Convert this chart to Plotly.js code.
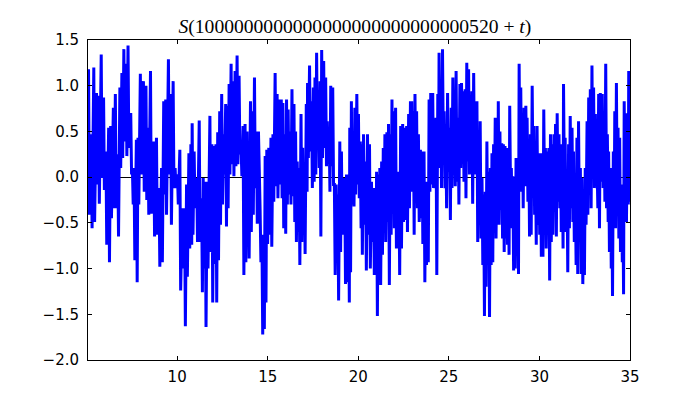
<!DOCTYPE html>
<html>
<head>
<meta charset="utf-8">
<script src="https://cdn.plot.ly/plotly-3.0.1.min.js"></script>
<style>html,body{margin:0;padding:0;background:#fff;}#chart{width:700px;height:400px;}</style>
</head>
<body>
<div id="chart"></div>
<script>
// t positions of each swing
var t = [
5.11,5.26,5.40,5.55,5.66,5.81,5.94,6.07,6.22,6.33,6.48,6.59,6.72,6.84,6.95,7.06,7.18,7.29,7.44,7.53,7.62,7.75,7.84,7.97,8.14,8.28,8.39,8.53,
8.71,8.86,9.00,9.14,9.26,9.37,9.52,9.64,9.78,9.89,10.02,10.15,10.28,10.41,10.52,10.65,10.76,10.83,10.94,11.08,11.22,11.35,11.44,11.55,11.66,11.81,11.92,12.03,
12.14,12.24,12.35,12.46,12.57,12.68,12.77,12.87,12.98,13.09,13.20,13.31,13.42,13.53,13.64,13.75,13.86,13.93,14.05,14.16,14.27,14.38,14.49,14.58,14.68,14.77,14.86,14.95,15.06,15.18,15.29,15.41,15.52,15.64,
15.75,15.84,15.95,16.04,16.13,16.24,16.34,16.45,16.54,16.63,16.73,16.84,16.93,17.02,17.13,17.20,17.31,17.42,17.52,17.61,17.70,17.80,17.89,17.98,18.09,18.20,18.29,18.39,18.48,18.59,18.68,18.78,18.87,18.98,19.07,19.16,19.25,
19.35,19.46,19.53,19.62,19.72,19.81,19.92,20.01,20.11,20.18,20.29,20.40,20.51,20.62,20.73,20.84,20.94,21.01,21.10,21.19,21.29,21.38,21.47,21.58,21.67,21.77,21.86,21.95,22.06,22.16,22.24,22.34,22.45,22.56,22.67,22.78,22.88,
22.95,23.04,23.13,23.22,23.32,23.43,23.52,23.63,23.72,23.82,23.91,24.00,24.11,24.21,24.29,24.39,24.46,24.55,24.65,24.74,24.83,24.93,25.04,25.13,25.22,25.31,25.40,25.51,25.61,25.70,25.79,25.90,25.99,26.09,26.18,26.27,26.37,26.45,
26.55,26.64,26.73,26.83,26.92,27.01,27.10,27.20,27.29,27.38,27.47,27.56,27.66,27.73,27.82,27.92,28.01,28.10,28.19,28.28,28.36,28.45,28.53,28.62,28.71,28.80,28.88,28.97,29.06,29.15,29.25,29.32,29.41,29.50,29.60,29.69,29.78,29.87,29.97,30.06,
30.15,30.24,30.33,30.43,30.52,30.61,30.70,30.80,30.89,30.98,31.08,31.16,31.26,31.33,31.42,31.52,31.61,31.70,31.80,31.88,31.98,32.07,32.16,32.26,32.35,32.44,32.53,32.63,32.72,32.81,32.90,32.99,33.09,33.18,33.27,33.36,
33.47,33.57,33.66,33.75,33.82,33.92,33.99,34.08,34.16,34.25,34.34,34.43,34.53,34.60,34.68,34.76,34.86,34.93,34.98
];
// upper turning values of S
var hi = [
1.18,0.47,1.2,0.92,0.89,1.34,0.87,0.28,0.54,0.56,0.76,0.91,0.25,0.98,1.14,1.4,1.24,1.44,0.7,0.1,0.1,0.41,0.43,1.13,1.05,1.0,0.54,1.16,
0.39,0.43,-0.12,0.1,0.83,0.85,1.29,0.91,1.05,0.1,0.03,0.3,-0.34,-0.34,-0.08,0.26,0.36,0.59,0.28,-0.01,0.62,-0.23,-0.01,-0.05,-0.05,0.67,0.36,0.34,
0.36,0.49,0.72,0.91,0.47,0.8,0.78,1.02,1.24,1.05,1.16,1.33,1.11,0.32,0.56,0.58,0.5,0.15,0.83,0.72,1.09,0.5,0.5,-0.34,-0.63,-0.63,0.23,0.3,0.32,0.43,0.47,1.14,0.91,0.85,
0.85,0.81,0.47,0.85,0.74,0.5,0.96,0.8,0.5,0.17,0.1,0.69,0.32,0.14,0.8,1.03,1.22,0.83,0.98,1.09,1.36,0.72,1.05,1.39,1.27,1.09,0.61,0.54,1.0,0.98,-0.08,-0.08,-0.19,0.39,0.28,-0.12,-0.01,
0.03,0.03,0.54,0.83,0.39,0.76,0.91,0.69,0.39,0.36,0.47,0.17,0.47,0.36,-0.05,-0.12,-0.16,0.06,0.03,0.1,0.17,0.32,0.47,0.49,0.58,0.47,0.85,0.72,0.76,-0.16,0.06,0.56,0.58,0.54,0.56,0.69,0.83,
0.83,0.72,0.91,0.72,0.47,0.3,0.28,0.28,-0.05,-0.05,0.85,0.92,0.92,0.47,0.65,0.91,1.36,1.02,1.4,0.72,0.58,0.92,0.54,0.76,1.09,0.83,1.16,0.65,1.02,1.03,0.94,0.96,1.25,1.18,0.65,0.94,1.14,0.61,
0.83,0.32,0.61,-0.01,-0.19,-0.16,0.39,0.06,0.1,0.26,0.36,0.65,0.5,0.83,0.5,0.37,0.36,0.34,0.32,0.03,0.78,0.1,0.01,-0.01,0.21,0.1,1.24,0.98,0.65,0.76,0.78,0.65,0.36,0.47,1.0,0.56,0.28,0.56,0.26,0.26,
0.25,0.74,0.32,0.28,0.32,0.47,0.36,0.47,0.58,0.7,0.47,0.36,0.28,1.02,0.43,0.03,0.36,0.67,0.54,0.28,-0.05,0.43,0.61,0.1,-0.01,-0.34,0.1,0.61,0.87,0.96,1.22,0.98,0.69,0.17,0.91,0.92,
0.91,0.47,1.24,0.47,0.28,0.1,-0.05,0.28,0.72,1.03,0.54,0.43,-0.08,-0.08,0.83,0.7,0.69,1.16,0.8
];
// lower turning values of S
var lo = [
-0.41,-0.56,-0.49,-0.08,-0.29,-0.01,-0.14,-0.74,-0.93,-0.45,-0.34,-0.34,-0.65,0.1,0.21,0.39,0.23,0.32,0.03,-0.3,-0.91,-1.15,-0.3,0.03,-0.16,-0.25,-0.41,-0.4,
-0.65,-0.63,-0.98,-0.93,-0.19,-0.41,0.03,-0.52,-0.12,-0.12,-0.3,-1.24,-1.0,-1.63,-1.09,-0.78,-0.74,-0.63,-0.34,-0.71,-0.71,-1.26,-1.0,-1.64,-1.0,-0.82,-1.37,-0.95,
-1.37,-0.91,-0.52,-0.3,0.03,-0.54,-0.34,0.03,0.14,0.01,0.12,0.14,0.25,0.01,-1.07,-0.93,-0.63,-0.89,-0.6,-0.41,-0.12,-0.51,-0.23,-0.93,-1.72,-1.66,-1.37,-0.73,-0.63,-0.76,-0.27,-0.1,-0.23,-0.08,
-0.23,-0.56,-0.62,-0.3,-0.19,-0.3,-0.21,-0.49,-0.71,-0.6,-0.96,-0.71,-0.49,-0.84,-0.16,0.21,0.28,-0.12,-0.05,0.03,0.36,0.1,-0.65,0.21,0.32,0.12,0.15,-0.16,0.12,-0.08,-1.07,-0.85,-1.35,-0.82,-0.63,-0.52,-1.17,
-1.15,-1.37,-1.04,-0.3,-0.32,-0.19,-0.08,-0.23,-0.56,-0.85,-0.52,-1.02,-0.63,-1.0,-0.71,-1.07,-0.91,-1.52,-1.07,-1.18,-0.85,-0.6,-0.71,-0.49,-1.18,-0.63,-0.34,-0.56,-0.78,-0.49,-1.07,-0.78,-0.49,-0.47,-0.6,-0.34,-0.12,
-0.16,-0.63,-0.12,-0.34,-0.49,-0.45,-0.73,-1.15,-0.96,-0.93,-0.16,-0.08,-0.12,-0.12,-1.07,0.1,0.25,-0.12,0.32,-0.12,-0.34,0.06,-0.47,-0.12,0.03,-0.1,-0.05,-0.3,0.1,0.15,-0.05,-0.23,0.17,0.03,0.14,-0.29,0.14,0.03,
-0.71,-0.49,-0.67,-0.96,-1.52,-1.2,-0.71,-1.53,-0.96,-0.93,-0.41,-0.67,-0.34,-0.52,-0.36,-0.67,-0.82,-0.67,-0.74,-0.85,-0.16,-0.56,-1.02,-1.0,-0.43,-1.06,-0.08,-0.16,-0.34,-0.1,-0.01,-0.27,-0.65,-0.63,-0.05,-0.41,-0.74,-0.52,-0.63,-0.87,
-0.87,-0.27,-0.78,-0.63,-1.13,-0.71,-0.63,-0.38,-0.65,-0.27,-0.34,-0.6,-0.78,-0.01,-0.6,-1.04,-0.56,-0.34,-0.49,-0.71,-0.96,-1.06,-0.52,-1.06,-1.17,-1.07,-0.52,-0.41,-0.08,-0.34,-0.01,-0.12,-0.08,-0.34,-0.56,-0.05,
-0.12,-0.27,-0.34,-0.49,-0.82,-1.0,-1.3,-0.49,-0.56,-0.27,-0.67,-0.82,-0.93,-1.28,-0.34,-0.49,-0.3,0.03,-0.27
];
var yTickVals = [-2.0,-1.5,-1.0,-0.5,0.0,0.5,1.0,1.5];
var xTickVals = [10,15,20,25,30,35];
var titleText = '<i>S</i>(1000000000000000000000000000520 + <i>t</i>)';

var halfStep = 0.045;
var xs = [], ys = [];
for (var i = 0; i < t.length; i++) {
  xs.push(t[i], t[i] + halfStep);
  ys.push(hi[i], lo[i]);
}

var trace = {
  x: xs, y: ys, type: 'scatter', mode: 'lines',
  line: {color: '#0000ff', width: 3, shape: 'linear'},
  hoverinfo: 'skip'
};

var axFont = {family: 'DejaVu Sans, sans-serif', size: 15, color: '#000'};
var layout = {
  width: 700, height: 400,
  margin: {l: 88, r: 70, t: 40, b: 40, pad: 0},
  paper_bgcolor: '#fff', plot_bgcolor: '#fff',
  showlegend: false,
  title: {text: titleText, font: {family: 'Liberation Serif, serif', size: 19.6, color: '#000'},
          x: 0.507, xref: 'container', xanchor: 'center', y: 0.935, yref: 'container', yanchor: 'middle'},
  xaxis: {range: [5.08, 35], tickvals: xTickVals, ticktext: xTickVals.map(String),
          showgrid: false, zeroline: false, showline: true, linecolor: '#000', linewidth: 1,
          mirror: 'ticks', ticks: 'inside', ticklen: 4, tickcolor: '#000', tickwidth: 1,
          ticklabelstandoff: 3, tickfont: axFont},
  yaxis: {range: [-2, 1.5], tickvals: yTickVals, ticktext: yTickVals.map(function(v){return (v<0?'\u2212':'') + Math.abs(v).toFixed(1);}),
          showgrid: false, zeroline: true, zerolinecolor: '#000', zerolinewidth: 1,
          showline: true, linecolor: '#000', linewidth: 1,
          mirror: 'ticks', ticks: 'inside', ticklen: 4, tickcolor: '#000', tickwidth: 1,
          ticklabelstandoff: 5, tickfont: axFont}
};

Plotly.newPlot('chart', [trace], layout, {staticPlot: true, displayModeBar: false});
</script>
</body>
</html>
